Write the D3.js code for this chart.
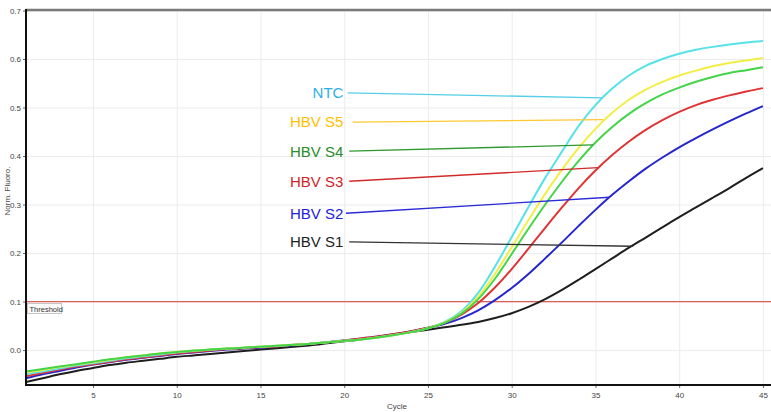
<!DOCTYPE html>
<html>
<head>
<meta charset="utf-8">
<script src="https://cdn.jsdelivr.net/npm/d3@7"></script>
<style>
  body { margin: 0; background: #fff; }
  .tick text { font-family: "Liberation Sans", Arial, sans-serif; font-size: 8px; fill: #444; }
  .grid line { stroke: #ececec; stroke-width: 1; }
  .grid .domain { display: none; }
</style>
</head>
<body>
<div id="chart"></div>
<script>
// qPCR amplification curves, normalised fluorescence per cycle

var cycles = d3.range(1, 46);

var ntc = [-0.050, -0.044, -0.038, -0.032, -0.027, -0.022, -0.017, -0.013, -0.009, -0.005,
           -0.002, 0.001, 0.003, 0.005, 0.007, 0.009, 0.011, 0.013, 0.016, 0.019,
           0.022, 0.026, 0.031, 0.037, 0.045, 0.058, 0.080, 0.118, 0.172, 0.233,
           0.295, 0.355, 0.409, 0.462, 0.505, 0.539, 0.566, 0.586, 0.600, 0.611,
           0.619, 0.625, 0.630, 0.634, 0.637];
var s5 = [-0.046, -0.041, -0.035, -0.030, -0.025, -0.020, -0.015, -0.011, -0.007, -0.004,
          -0.001, 0.001, 0.003, 0.005, 0.007, 0.009, 0.011, 0.013, 0.016, 0.019,
          0.022, 0.026, 0.031, 0.037, 0.045, 0.057, 0.077, 0.110, 0.157, 0.212,
          0.268, 0.322, 0.372, 0.417, 0.456, 0.489, 0.516, 0.537, 0.553, 0.566,
          0.576, 0.585, 0.592, 0.597, 0.602];
var s4 = [-0.044, -0.039, -0.034, -0.029, -0.024, -0.019, -0.015, -0.011, -0.007, -0.004,
          -0.001, 0.001, 0.003, 0.005, 0.007, 0.009, 0.011, 0.013, 0.016, 0.019,
          0.022, 0.026, 0.031, 0.037, 0.045, 0.056, 0.075, 0.105, 0.147, 0.198,
          0.250, 0.300, 0.347, 0.390, 0.428, 0.460, 0.487, 0.509, 0.527, 0.541,
          0.553, 0.563, 0.571, 0.577, 0.583];
var s3 = [-0.054, -0.047, -0.040, -0.034, -0.029, -0.024, -0.019, -0.015, -0.011, -0.007,
          -0.004, -0.001, 0.002, 0.004, 0.006, 0.008, 0.011, 0.013, 0.016, 0.020,
          0.024, 0.028, 0.033, 0.039, 0.046, 0.056, 0.073, 0.097, 0.129, 0.167,
          0.209, 0.252, 0.294, 0.334, 0.370, 0.402, 0.430, 0.454, 0.474, 0.491,
          0.505, 0.516, 0.525, 0.533, 0.540];
var s2 = [-0.058, -0.050, -0.043, -0.036, -0.030, -0.025, -0.020, -0.016, -0.012, -0.008,
          -0.005, -0.002, 0.001, 0.003, 0.005, 0.008, 0.010, 0.013, 0.016, 0.020,
          0.024, 0.028, 0.033, 0.039, 0.046, 0.054, 0.066, 0.082, 0.103, 0.128,
          0.157, 0.189, 0.222, 0.256, 0.289, 0.320, 0.348, 0.374, 0.397, 0.418,
          0.437, 0.455, 0.472, 0.488, 0.503];
var s1 = [-0.066, -0.058, -0.050, -0.043, -0.037, -0.031, -0.026, -0.022, -0.018, -0.014,
          -0.011, -0.008, -0.005, -0.002, 0.001, 0.004, 0.007, 0.010, 0.014, 0.018,
          0.022, 0.027, 0.032, 0.037, 0.042, 0.047, 0.052, 0.058, 0.066, 0.076,
          0.089, 0.105, 0.124, 0.145, 0.167, 0.189, 0.211, 0.232, 0.253, 0.274,
          0.294, 0.314, 0.334, 0.355, 0.375];

var threshold = 0.1;

var yTicks = [0.0, 0.1, 0.2, 0.3, 0.4, 0.5, 0.6, 0.7];
var xTicks = [5, 10, 15, 20, 25, 30, 35, 40, 45];

// annotation labels (top to bottom as in the picture)
var labelNames   = ["NTC", "HBV S5", "HBV S4", "HBV S3", "HBV S2", "HBV S1"];
var labelValues  = [0.530, 0.470, 0.410, 0.348, 0.282, 0.223];
var leaderFrom   = [20.2, 20.5, 20.3, 20.3, 20.1, 20.3];
var leaderToCyc  = [35.4, 35.45, 34.85, 35.15, 35.85, 37.25];
var leaderToVal  = [0.520, 0.475, 0.423, 0.376, 0.315, 0.214];
var labelColors  = ["#2fb0e4", "#ffc000", "#2a8c2a", "#d01f26", "#2222dd", "#1e1e1e"];
var leaderColors = ["#55cfe6", "#ffc830", "#2f9a2f", "#d22a2a", "#2a2ad6", "#333333"];

// black first so the lighter curves sit on top early on
var seriesData   = [s1, s2, s3, ntc, s5, s4];
var seriesColors = ["#1e1e1e", "#2626cf", "#e03434", "#55e2e8", "#f2ee44", "#44d448"];

var W = 771, H = 412;
var margin = {top: 10, left: 26, bottom: 27};

var svg = d3.select("#chart")
  .append("svg")
    .attr("width", W)
    .attr("height", H);

var x = d3.scaleLinear()
  .domain([1, 45.5])
  .range([margin.left, W + 0.3]);

var y = d3.scaleLinear()
  .domain([-0.072, 0.7])
  .range([H - margin.bottom, margin.top + 0.5]);

// gridlines
svg.append("g")
  .attr("class", "grid")
  .attr("transform", "translate(" + margin.left + ",0)")
  .call(d3.axisLeft(y).tickValues(yTicks).tickSize(-(W - margin.left)).tickFormat(""));

svg.append("g")
  .attr("class", "grid")
  .attr("transform", "translate(0," + (H - margin.bottom) + ")")
  .call(d3.axisBottom(x).tickValues(xTicks).tickSize(-(H - margin.bottom - margin.top)).tickFormat(""));

// top border
svg.append("line")
  .attr("x1", margin.left).attr("x2", W)
  .attr("y1", margin.top).attr("y2", margin.top)
  .style("stroke", "#7a7a7a")
  .style("stroke-width", 2.5);

// threshold line
svg.append("line")
  .attr("x1", x(1)).attr("x2", W)
  .attr("y1", y(threshold)).attr("y2", y(threshold))
  .style("stroke", "#d9605a")
  .style("stroke-width", 1.2);

var thr = svg.append("g")
  .attr("transform", "translate(" + (margin.left + 1.5) + "," + (y(threshold) + 2) + ")");
thr.append("rect")
  .attr("width", 34).attr("height", 10)
  .style("fill", "#fafafa")
  .style("stroke", "#b8b8b8")
  .style("stroke-width", 0.8);
thr.append("text")
  .attr("x", 2).attr("y", 8)
  .style("font-family", "Liberation Sans, Arial, sans-serif")
  .style("font-size", "7.5px")
  .style("fill", "#333")
  .text("Threshold");

// curves
var line = d3.line()
  .x(function(d, i) { return x(cycles[i]); })
  .y(function(d) { return y(d); })
  .curve(d3.curveCatmullRom.alpha(0.5));

svg.selectAll(".curve")
  .data(seriesData)
  .enter()
  .append("path")
    .attr("class", "curve")
    .attr("d", line)
    .style("fill", "none")
    .style("stroke", function(d, i) { return seriesColors[i]; })
    .style("stroke-width", 2);

// axes
var yAxis = svg.append("g")
  .attr("transform", "translate(" + margin.left + ",0)")
  .call(d3.axisLeft(y).tickValues(yTicks).tickSize(3).tickPadding(2).tickFormat(d3.format(".1f")));
yAxis.select(".domain").remove();
yAxis.selectAll(".tick line").style("stroke", "#666");

var xAxis = svg.append("g")
  .attr("transform", "translate(0," + (H - margin.bottom) + ")")
  .call(d3.axisBottom(x).tickValues(xTicks).tickSize(3).tickPadding(4));
xAxis.select(".domain").remove();
xAxis.selectAll(".tick line").style("stroke", "#666");

svg.append("line")
  .attr("x1", margin.left).attr("x2", margin.left)
  .attr("y1", margin.top - 1).attr("y2", H - margin.bottom + 1)
  .style("stroke", "#111")
  .style("stroke-width", 2);

svg.append("line")
  .attr("x1", margin.left).attr("x2", W)
  .attr("y1", H - margin.bottom).attr("y2", H - margin.bottom)
  .style("stroke", "#111")
  .style("stroke-width", 2);

// axis titles
svg.append("text")
  .attr("x", 397).attr("y", 409)
  .attr("text-anchor", "middle")
  .style("font-family", "Liberation Sans, Arial, sans-serif")
  .style("font-size", "8px")
  .style("fill", "#444")
  .text("Cycle");

svg.append("text")
  .attr("transform", "translate(10,191) rotate(-90)")
  .attr("text-anchor", "middle")
  .style("font-family", "Liberation Sans, Arial, sans-serif")
  .style("font-size", "8px")
  .style("fill", "#444")
  .text("Norm. Fluoro.");

// labels with leader lines
var ann = svg.selectAll(".ann")
  .data(labelNames)
  .enter()
  .append("g")
  .attr("class", "ann");

ann.append("line")
  .attr("x1", function(d, i) { return x(leaderFrom[i]); })
  .attr("y1", function(d, i) { return y(labelValues[i]); })
  .attr("x2", function(d, i) { return x(leaderToCyc[i]); })
  .attr("y2", function(d, i) { return y(leaderToVal[i]); })
  .style("stroke", function(d, i) { return leaderColors[i]; })
  .style("stroke-width", 1.3);

ann.append("text")
  .attr("x", x(19.95))
  .attr("y", function(d, i) { return y(labelValues[i]); })
  .attr("dy", "0.36em")
  .attr("text-anchor", "end")
  .style("font-family", "Liberation Sans, Arial, sans-serif")
  .style("font-size", "15px")
  .style("fill", function(d, i) { return labelColors[i]; })
  .text(function(d) { return d; });
</script>
</body>
</html>
